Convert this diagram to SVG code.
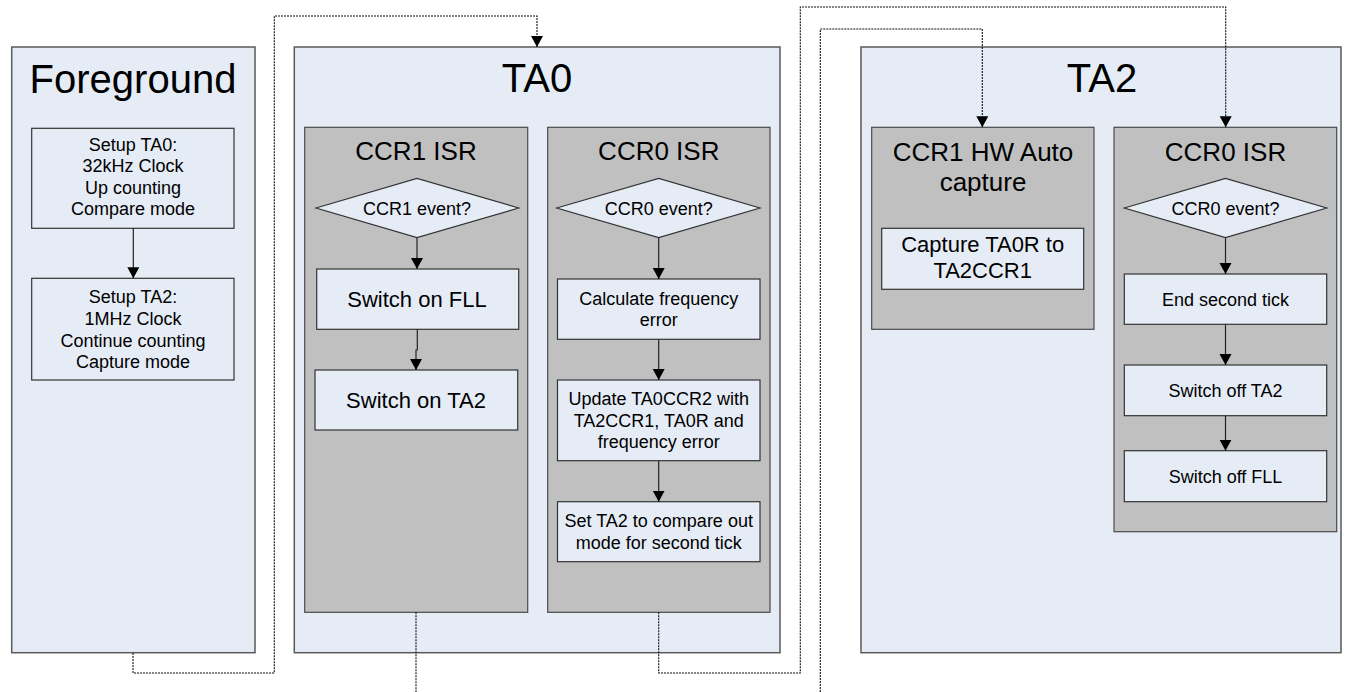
<svg xmlns="http://www.w3.org/2000/svg" width="1349" height="692" viewBox="0 0 1349 692">
<defs>
<marker id="arr" markerUnits="userSpaceOnUse" markerWidth="12" markerHeight="13" refX="11" refY="6" orient="auto">
<path d="M0,0 L11,6 L0,12 z" fill="#000" stroke="none"/>
</marker>
<style>
.panel{fill:#E6ECF6;stroke:#5a5a5a;stroke-width:1.5}
.grp{fill:#C0C0C0;stroke:#4a4a4a;stroke-width:1.2}
.box{fill:#E6ECF6;stroke:#333;stroke-width:1.2}
.t{font-family:"Liberation Sans",Arial,sans-serif;fill:#000;text-anchor:middle}
.big{font-size:40px}
.mid{font-size:26px}
.md2{font-size:22px}
.sm{font-size:18px}
.flow{fill:none;stroke:#222;stroke-width:1.2;marker-end:url(#arr)}
.dot{fill:none;stroke:#111;stroke-width:1.1;stroke-dasharray:2,1}
</style>
</defs>
<rect width="1349" height="692" fill="#fff"/>

<g id="foreground">
<rect class="panel" x="11.7" y="47" width="243.3" height="605.7"/>
<text class="t big" x="133" y="93">Foreground</text>
</g>
<g id="setup-ta0">
<rect class="box" x="31.7" y="128.3" width="202.3" height="100"/>
<text class="t sm" x="133" y="150.5">Setup TA0:</text>
<text class="t sm" x="133" y="172">32kHz Clock</text>
<text class="t sm" x="133" y="193.5">Up counting</text>
<text class="t sm" x="133" y="215">Compare mode</text>
</g>
<g id="setup-ta2">
<rect class="box" x="31.7" y="278.3" width="202.3" height="101.7"/>
<text class="t sm" x="133" y="303.3">Setup TA2:</text>
<text class="t sm" x="133" y="325">1MHz Clock</text>
<text class="t sm" x="133" y="346.5">Continue counting</text>
<text class="t sm" x="133" y="368">Capture mode</text>
</g>

<g id="ta0">
<rect class="panel" x="294.3" y="47" width="485.7" height="605.7"/>
<text class="t big" x="537" y="92">TA0</text>
</g>
<g id="ta0-ccr1-isr">
<rect class="grp" x="304.7" y="127.3" width="223" height="485"/>
<text class="t mid" x="416" y="160">CCR1 ISR</text>
</g>
<g id="ta0-ccr1-event">
<polygon class="box" points="316,208 417,178.3 518.7,208 417,237.7"/>
<text class="t sm" x="417" y="214.5">CCR1 event?</text>
</g>
<g id="switch-on-fll">
<rect class="box" x="316.7" y="269" width="202" height="60.3"/>
<text class="t md2" x="417" y="307">Switch on FLL</text>
</g>
<g id="switch-on-ta2">
<rect class="box" x="315" y="370" width="202.7" height="60"/>
<text class="t md2" x="416" y="408">Switch on TA2</text>
</g>

<g id="ta0-ccr0-isr">
<rect class="grp" x="547.7" y="127.3" width="222.3" height="485"/>
<text class="t mid" x="658.8" y="160">CCR0 ISR</text>
</g>
<g id="ta0-ccr0-event">
<polygon class="box" points="556.7,208 658.7,178.3 760,208 658.7,237.7"/>
<text class="t sm" x="658.7" y="214.5">CCR0 event?</text>
</g>
<g id="calc-freq-error">
<rect class="box" x="557.5" y="279" width="202.5" height="60.3"/>
<text class="t sm" x="658.7" y="304.5">Calculate frequency</text>
<text class="t sm" x="658.7" y="326">error</text>
</g>
<g id="update-ta0ccr2">
<rect class="box" x="557.5" y="380" width="202.5" height="80.7"/>
<text class="t sm" x="658.7" y="405">Update TA0CCR2 with</text>
<text class="t sm" x="658.7" y="426.5">TA2CCR1, TA0R and</text>
<text class="t sm" x="658.7" y="448">frequency error</text>
</g>
<g id="set-ta2-compare">
<rect class="box" x="557.5" y="501.7" width="202.5" height="60"/>
<text class="t sm" x="658.7" y="527">Set TA2 to compare out</text>
<text class="t sm" x="658.7" y="548.5">mode for second tick</text>
</g>

<g id="ta2">
<rect class="panel" x="861" y="47" width="480" height="605.7"/>
<text class="t big" x="1102" y="92">TA2</text>
</g>
<g id="ta2-ccr1-hw">
<rect class="grp" x="871.7" y="127.3" width="222.3" height="202"/>
<text class="t mid" x="983" y="160.5">CCR1 HW Auto</text>
<text class="t mid" x="983" y="191">capture</text>
</g>
<g id="capture-ta0r">
<rect class="box" x="881.7" y="228.3" width="202" height="61"/>
<text class="t md2" x="982.7" y="252">Capture TA0R to</text>
<text class="t md2" x="982.7" y="278">TA2CCR1</text>
</g>
<g id="ta2-ccr0-isr">
<rect class="grp" x="1114" y="127.3" width="222.7" height="404.4"/>
<text class="t mid" x="1225.5" y="160.5">CCR0 ISR</text>
</g>
<g id="ta2-ccr0-event">
<polygon class="box" points="1124.3,208 1225.5,178.3 1326.7,208 1225.5,237.7"/>
<text class="t sm" x="1225.5" y="214.5">CCR0 event?</text>
</g>
<g id="end-second-tick">
<rect class="box" x="1124.3" y="274" width="202.4" height="50.3"/>
<text class="t sm" x="1225.5" y="305.7">End second tick</text>
</g>
<g id="switch-off-ta2">
<rect class="box" x="1124.3" y="365" width="202.4" height="50.7"/>
<text class="t sm" x="1225.5" y="396.8">Switch off TA2</text>
</g>
<g id="switch-off-fll">
<rect class="box" x="1124.3" y="450.7" width="202.4" height="51"/>
<text class="t sm" x="1225.5" y="482.7">Switch off FLL</text>
</g>

<g id="connectors">
<path class="flow" d="M133.3,228.3 V278.3"/>
<path class="flow" d="M417,237.7 V269"/>
<path class="flow" d="M417.3,329.3 V350 H416 V370"/>
<path class="flow" d="M658.7,237.7 V279"/>
<path class="flow" d="M658.7,339.3 V380"/>
<path class="flow" d="M658.7,460.7 V501.7"/>
<path class="flow" d="M1225.5,237.7 V274"/>
<path class="flow" d="M1225.5,324.3 V365"/>
<path class="flow" d="M1225.5,415.7 V450.7"/>
<path class="dot" d="M133,653 V673 H274.3 V16 H537 V47" marker-end="url(#arr)"/>
<path class="dot" d="M416,612.3 V692"/>
<path class="dot" d="M658.7,612.3 V673 H800.3 V7 H1225.7 V127.3" marker-end="url(#arr)"/>
<path class="dot" d="M820.3,692 V29 H982.3 V127.3" marker-end="url(#arr)"/>
</g>
</svg>
